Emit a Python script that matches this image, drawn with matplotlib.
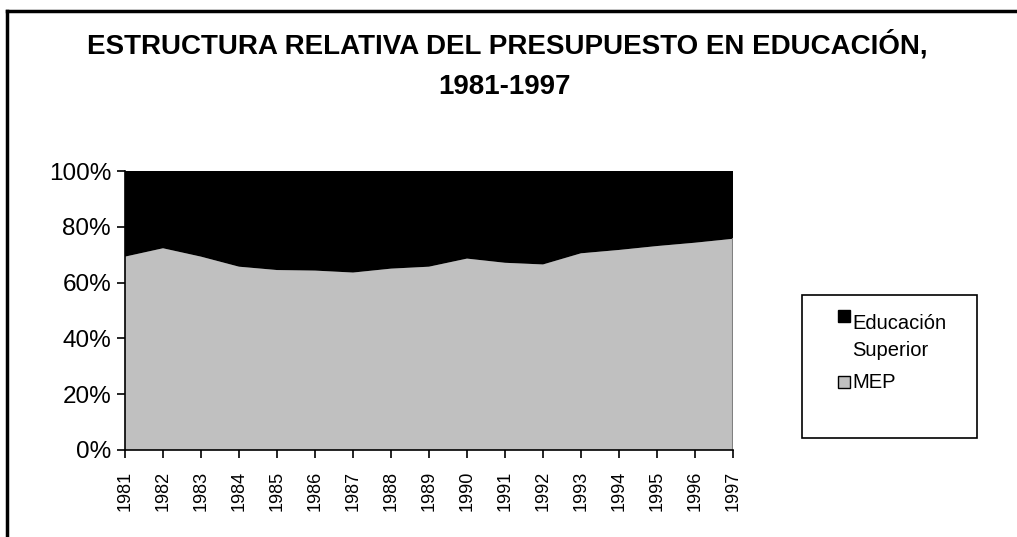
import matplotlib
matplotlib.use("Agg")
import matplotlib.pyplot as plt
from matplotlib.patches import Rectangle
from matplotlib.lines import Line2D

# --- Datos (porcentaje del presupuesto en educación) ---
years = list(range(1981, 1998))
mep = [69.3, 72.3, 69.3, 65.7, 64.5, 64.3, 63.6, 65.0, 65.7,
       68.6, 67.1, 66.5, 70.5, 71.7, 73.1, 74.3, 75.7]
superior = [100 - v for v in mep]
series_labels = ["MEP", "Educación\nSuperior"]
y_ticks = [0, 20, 40, 60, 80, 100]

plt.rcParams['font.family'] = ['Liberation Sans', 'DejaVu Sans']

W, H = 1017, 537
fig = plt.figure(figsize=(W / 100, H / 100), dpi=100)

# Marco exterior (solo izquierda y arriba visibles)
fig.add_artist(Line2D([7 / W, 7 / W], [0, 1 - 11 / H], color='black', lw=2.5,
                      transform=fig.transFigure))
fig.add_artist(Line2D([7 / W, 1], [1 - 11 / H, 1 - 11 / H], color='black', lw=2.5,
                      transform=fig.transFigure))

ax = fig.add_axes([125 / W, 1 - 450 / H, (733 - 125) / W, (450 - 171) / H])
ax.stackplot(years, mep, superior, colors=['#c0c0c0', '#000000'], lw=0)
ax.plot([years[-1], years[-1]], [0, mep[-1]], color='#808080', lw=1.5)

ax.set_xlim(years[0], years[-1])
ax.set_ylim(0, 100)
ax.set_yticks(y_ticks)
ax.set_yticklabels([f"{t}%" for t in y_ticks], fontsize=17.5)
ax.set_xticks(years)
ax.set_xticklabels([str(y) for y in years], rotation=90, fontsize=13)
ax.tick_params(axis='both', direction='out', length=6, width=1.2, color='black')
ax.tick_params(axis='y', pad=4)
ax.tick_params(axis='x', pad=9)
for s in ['top', 'right']:
    ax.spines[s].set_visible(False)
for s in ['left', 'bottom']:
    ax.spines[s].set_linewidth(1.2)

# Título
fig.text(507 / W, 1 - 45 / H, "ESTRUCTURA RELATIVA DEL PRESUPUESTO EN EDUCACIÓN,",
         ha='center', va='center', fontsize=20, fontweight='bold')
fig.text(505 / W, 1 - 87 / H, "1981-1997", ha='center', va='center',
         fontsize=20, fontweight='bold')

# Leyenda dibujada a mano
fig.add_artist(Rectangle((802 / W, 1 - 438 / H), (977 - 802) / W, (438 - 295) / H,
                         transform=fig.transFigure, fill=False, ec='black', lw=1.2))
fig.add_artist(Rectangle((838 / W, 1 - 322 / H), 12 / W, 12 / H,
                         transform=fig.transFigure, fc='#000000', ec='black', lw=1))
fig.text(852 / W, 1 - 314 / H, series_labels[1], ha='left', va='top',
         fontsize=14.5, linespacing=1.55, transform=fig.transFigure)
fig.add_artist(Rectangle((838 / W, 1 - 388 / H), 12 / W, 12 / H,
                         transform=fig.transFigure, fc='#c0c0c0', ec='black', lw=1))
fig.text(852 / W, 1 - 382 / H, series_labels[0], ha='left', va='center',
         fontsize=14.5, transform=fig.transFigure)

fig.savefig("out.png", dpi=100)
